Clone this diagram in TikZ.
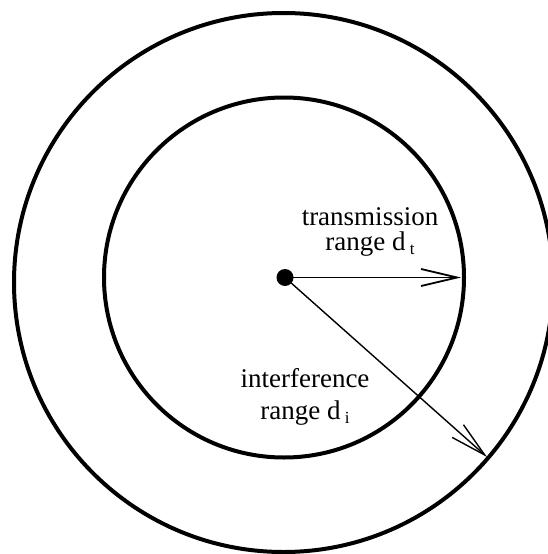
\documentclass[tikz,border=0pt]{standalone}
\usepackage{fontspec}
\setmainfont{Liberation Serif}
\usetikzlibrary{
    positioning,
    calc,
    arrows.meta
}
\newcommand{\rangesub}[1]{\,\raisebox{-0.35ex}{\fontsize{17}{17}\selectfont #1}}

\begin{document}
\begin{tikzpicture}[
    x=1pt, y=-1pt,
    ring/.style={circle, draw, line width=4pt, inner sep=0pt},
    radius arrow/.style={-{Straight Barb[length=36pt, width=17pt]}},
    rangelabel/.style={align=center, font=\fontsize{27}{25}\selectfont}
]
    \useasboundingbox (0,0) rectangle (548,554);
    % two ranges
    \node[ring, minimum size=539pt] (outer) at (283.5,282.5) {};
    \node[ring, minimum size=360pt] (inner) at (284,277.5) {};
    % sender
    \node[circle, fill, minimum size=17pt, inner sep=0pt] (sender) at (285,277.5) {};
    \coordinate (ttip) at (461,277.5);
    \coordinate (itip) at (487,457);
    \draw[radius arrow, line width=1.8pt] (sender.center) -- (ttip);
    \draw[radius arrow, line width=1.4pt] (sender.center) -- (itip);
    % labels
    \node[rangelabel] (tlabel) at (370,232) {transmission\\range d\rangesub{t}};
    \node[rangelabel] (ilabel) at (305,397) {interference\\[7pt]range d\rangesub{i}};
\end{tikzpicture}
\end{document}
